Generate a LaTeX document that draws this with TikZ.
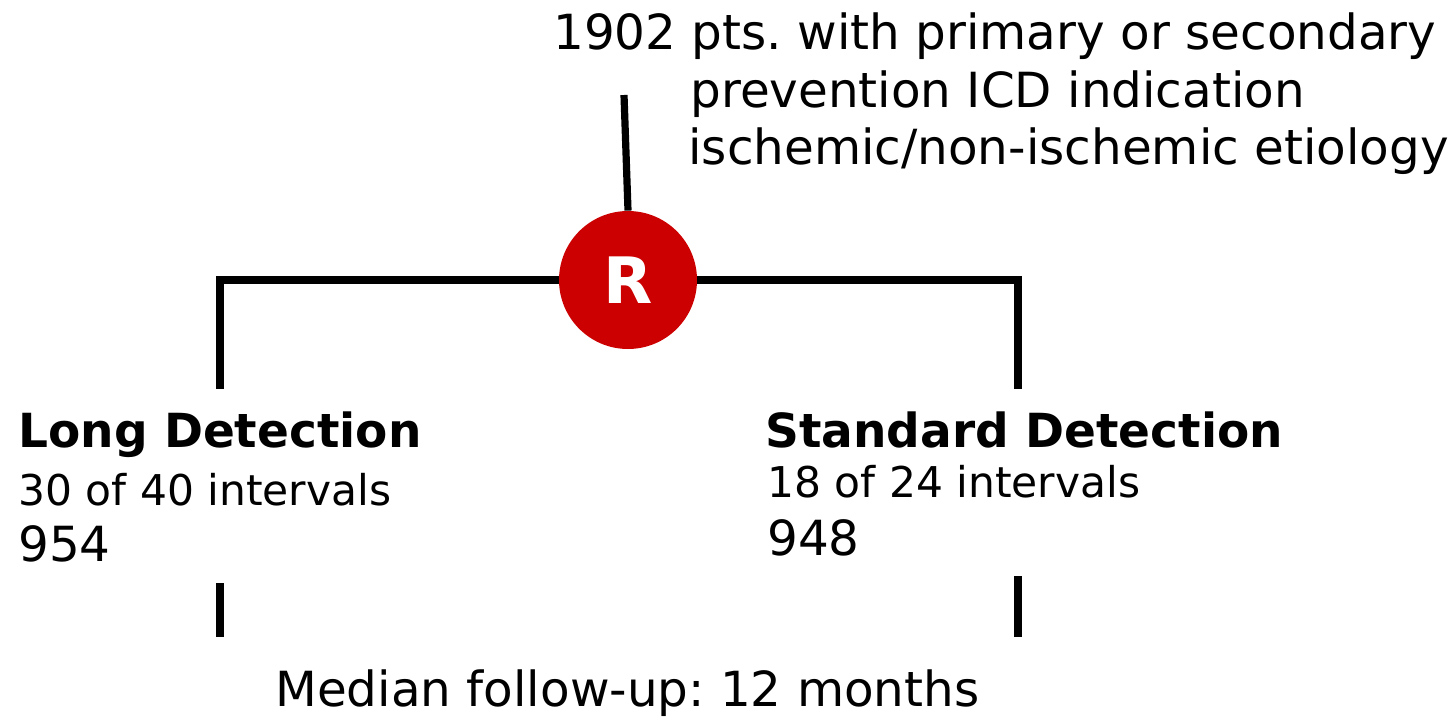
\documentclass[tikz,border=0pt]{standalone}
\usepackage{fontspec}
\setmainfont{DejaVu Sans}
\usetikzlibrary{positioning}
\definecolor{randrot}{HTML}{CC0000}
\frenchspacing
\tikzset{
    % Define style for text lines
    zeile/.style={
           anchor=base west,
           inner sep=0pt,
           font=\fontsize{24.2}{28}\selectfont},
    kleinzeile/.style={
           zeile,
           font=\fontsize{21.2}{25}\selectfont},
    titel/.style={
           zeile,
           font=\fontsize{23.5}{28}\selectfont\bfseries},
    % Define style for the randomisation circle
    kreis/.style={
           circle,
           fill=randrot,
           minimum size=69pt,
           inner sep=0pt,
           text=white,
           font=\fontsize{32}{36}\selectfont\bfseries},
    % Define line style
    linie/.style={
           line width=3.6pt}
}
\begin{document}
\begin{tikzpicture}[x=0.5pt,y=-0.5pt]
    \useasboundingbox (0,0) rectangle (1454,717);
    % population
    \node (pop1) [zeile] at (553,50) {1902 pts. with primary or secondary};
    \node (pop2) [zeile] at (690,107) {prevention ICD indication};
    \node (pop3) [zeile] at (688,164) {ischemic/non-ischemic etiology};
    \coordinate (popfuss) at (624,95);
    % randomisation
    \node (rand) [kreis] at (628,280) {R};
    \coordinate (ecklinks) at (220,280);
    \coordinate (eckrechts) at (1018,280);
    \coordinate (endlinks) at (220,389);
    \coordinate (endrechts) at (1018,389);
    % arms
    \node (lang) [titel] at (18,447) {Long Detection};
    \node (lang2) [kleinzeile] at (18,505) {30 of 40 intervals};
    \node (lang3) [zeile] at (18,561) {954};
    \node (std) [titel] at (765,447) {Standard Detection};
    \node (std2) [kleinzeile] at (767,497) {18 of 24 intervals};
    \node (std3) [zeile] at (767,555) {948};
    \coordinate (fusslinks1) at (220,583);
    \coordinate (fusslinks2) at (220,637);
    \coordinate (fussrechts1) at (1018,576);
    \coordinate (fussrechts2) at (1018,637);
    % follow-up
    \node (median) [zeile] at (275,706) {Median follow-up: 12 months};
    % connectors
    \draw [linie] (popfuss) -- (rand.north);
    \draw [linie] (rand.west) -- (ecklinks) -- (endlinks);
    \draw [linie] (rand.east) -- (eckrechts) -- (endrechts);
    \draw [linie] (fusslinks1) -- (fusslinks2);
    \draw [linie] (fussrechts1) -- (fussrechts2);
\end{tikzpicture}
\end{document}
